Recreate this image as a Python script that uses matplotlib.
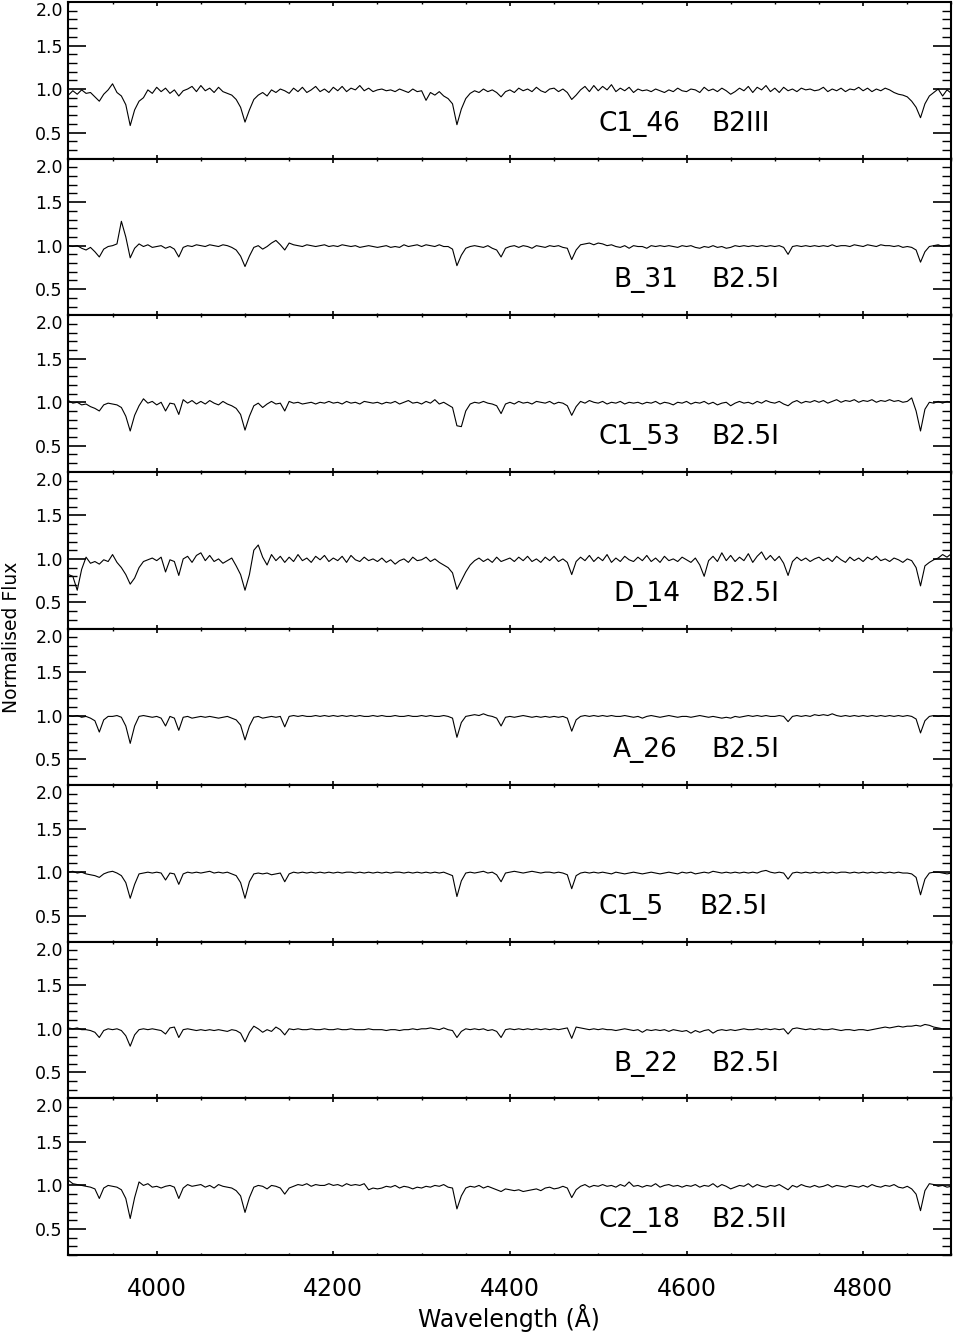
import matplotlib
matplotlib.use('Agg')
import matplotlib.pyplot as plt
import numpy as np
from matplotlib.ticker import MultipleLocator

# stars, top to bottom
star_names = ['C1_46', 'B_31', 'C1_53', 'D_14', 'A_26', 'C1_5', 'B_22', 'C2_18']
spectral_types = ['B2III', 'B2.5I', 'B2.5I', 'B2.5I', 'B2.5I', 'B2.5I', 'B2.5I', 'B2.5II']

y_ticks = [0.5, 1.0, 1.5, 2.0]
y_ticklabels = ['0.5', '1.0', '1.5', '2.0']

# normalised flux, 3900-4900 A in 5 A steps (10 values per row)
flux_c1_46 = [
    0.93, 0.98, 0.94, 0.99, 0.95, 0.96, 0.91, 0.86, 0.94, 0.99,
    1.06, 0.96, 0.92, 0.82, 0.58, 0.76, 0.86, 0.90, 0.99, 0.95,
    1.02, 0.97, 1.01, 0.95, 0.99, 0.92, 0.98, 1.00, 1.03, 0.97,
    1.04, 0.98, 1.01, 0.96, 1.02, 0.97, 0.95, 0.93, 0.88, 0.79,
    0.62, 0.76, 0.88, 0.93, 0.96, 0.92, 0.99, 0.96, 1.00, 0.98,
    0.95, 1.01, 0.97, 1.02, 0.96, 0.99, 1.03, 0.97, 1.00, 0.96,
    1.02, 0.98, 1.03, 0.97, 1.01, 0.99, 1.04, 0.98, 1.01, 0.97,
    0.99, 1.00, 0.98, 0.99, 0.97, 1.00, 0.98, 0.96, 1.00, 0.97,
    0.98, 0.87, 0.96, 0.93, 0.97, 0.92, 0.89, 0.83, 0.59, 0.77,
    0.89, 0.95, 0.98, 0.96, 1.00, 0.97, 0.99, 0.96, 0.91, 0.97,
    0.99, 0.96, 1.01, 0.98, 1.00, 0.97, 1.02, 0.98, 0.96, 1.00,
    1.01, 0.97, 1.00, 0.96, 0.88, 0.93, 0.99, 1.03, 0.97, 1.04,
    0.98, 1.03, 0.99, 1.05, 0.97, 1.01, 0.98, 1.02, 0.96, 1.00,
    0.98, 0.99, 0.97, 1.00, 0.98, 0.96, 0.99, 0.97, 1.01, 0.98,
    0.97, 1.00, 0.99, 0.96, 1.02, 0.98, 1.00, 0.97, 1.01, 0.98,
    0.94, 0.97, 1.01, 0.98, 1.03, 0.96, 1.02, 0.99, 1.04, 0.97,
    1.01, 0.96, 1.02, 0.98, 1.00, 0.97, 1.01, 0.99, 1.00, 0.98,
    0.99, 1.02, 0.97, 1.00, 0.98, 1.01, 0.97, 1.00, 0.99, 1.02,
    0.98, 1.01, 0.97, 1.00, 0.98, 1.01, 0.99, 0.96, 0.94, 0.93,
    0.91, 0.86, 0.79, 0.67, 0.83, 0.92, 0.96, 1.00, 0.92, 0.99,
    0.95,
]

flux_b_31 = [
    1.00, 0.99, 1.00, 0.97, 0.95, 0.98, 0.93, 0.87, 0.96, 0.99,
    1.00, 1.02, 1.28, 1.10, 0.86, 0.97, 1.02, 0.99, 1.01, 0.98,
    0.99, 1.00, 0.97, 0.99, 0.96, 0.87, 0.98, 1.00, 0.99, 1.01,
    1.00, 0.99, 1.01, 1.00, 0.99, 1.01, 1.00, 0.98, 0.95, 0.88,
    0.76, 0.88, 0.98, 1.00, 0.96, 0.99, 1.03, 1.06, 1.01, 0.95,
    1.03, 1.01, 1.00, 0.99, 1.01, 1.00, 0.99, 1.00, 1.01, 0.99,
    1.00, 0.99, 1.01, 1.00, 0.99, 1.00, 0.98, 0.99, 1.00, 0.99,
    0.98, 0.99, 1.00, 0.98, 0.99, 0.98, 1.01, 0.99, 1.00, 1.01,
    0.99, 1.01, 1.00, 0.99, 1.01, 0.99, 0.99, 0.96, 0.77, 0.89,
    0.97, 0.99, 1.00, 0.99, 0.98, 1.00, 0.97, 0.95, 0.87, 0.97,
    0.99, 1.00, 0.98, 1.00, 0.99, 0.97, 1.00, 0.99, 0.98, 1.00,
    0.99, 1.00, 0.98, 0.97, 0.84, 0.95, 1.01, 1.02, 1.03, 1.01,
    1.03, 1.02, 1.00, 1.01, 0.99, 0.98, 1.00, 0.97, 1.00, 0.99,
    0.99, 0.97, 1.00, 0.99, 1.00, 0.99, 1.00, 0.99, 0.98, 1.00,
    0.99, 1.00, 0.98, 0.97, 0.99, 0.98, 1.00, 0.98, 0.99, 0.97,
    0.98, 1.00, 0.99, 1.00, 0.99, 1.00, 0.99, 1.00, 0.99, 1.00,
    0.99, 1.00, 0.98, 0.90, 0.99, 1.00, 0.99, 1.00, 0.99, 1.00,
    0.99, 1.00, 0.99, 1.01, 0.99, 1.00, 1.00, 0.99, 1.01, 1.00,
    0.99, 1.01, 1.00, 0.99, 1.01, 1.00, 1.00, 0.99, 1.00, 0.98,
    0.99, 0.98, 0.95, 0.81, 0.93, 0.99, 1.00, 1.01, 0.99, 1.00,
    1.01,
]

flux_c1_53 = [
    1.02, 0.99, 1.00, 0.97, 0.98, 0.95, 0.93, 0.90, 0.97, 0.99,
    0.98, 0.97, 0.94, 0.84, 0.67, 0.85, 0.96, 1.04, 0.99, 1.01,
    0.97, 1.00, 0.90, 0.99, 0.98, 0.86, 1.03, 0.99, 1.02, 0.98,
    1.01, 0.98, 1.02, 0.99, 0.97, 1.01, 0.98, 0.96, 0.93, 0.86,
    0.68, 0.84, 0.96, 0.99, 0.94, 0.98, 1.01, 0.98, 0.99, 0.90,
    1.01, 0.99, 1.00, 0.98, 0.99, 1.00, 0.98, 1.00, 0.99, 1.01,
    0.99, 1.00, 0.98, 1.01, 0.99, 1.00, 0.98, 1.01, 1.00, 0.99,
    1.00, 0.98, 1.00, 0.99, 1.01, 0.98, 1.00, 1.02, 0.99, 1.00,
    0.98, 1.01, 0.99, 1.03, 0.98, 1.00, 0.97, 0.94, 0.73, 0.72,
    0.90, 0.98, 1.00, 0.99, 1.01, 0.99, 0.98, 0.96, 0.87, 0.98,
    1.00, 0.98, 1.01, 0.99, 1.00, 0.98, 1.01, 1.00, 0.99, 1.01,
    0.98, 1.00, 0.99, 0.96, 0.85, 0.95, 1.01, 0.99, 1.02, 1.00,
    0.99, 1.01, 0.98, 1.00, 0.99, 1.01, 0.98, 1.00, 0.99, 1.00,
    0.98, 1.00, 0.99, 1.01, 0.98, 1.00, 0.99, 0.97, 1.00, 0.99,
    1.01, 0.98, 1.00, 0.99, 1.01, 0.98, 1.00, 0.97, 0.99, 1.00,
    0.96, 0.99, 1.01, 0.99, 1.00, 0.98, 1.01, 0.99, 1.02, 1.00,
    0.99, 1.01, 0.98, 0.96, 1.00, 1.02, 0.99, 1.01, 1.00, 1.02,
    1.00, 1.02, 0.99, 1.01, 1.03, 1.00, 1.02, 1.01, 1.03, 1.00,
    1.02, 1.01, 1.03, 1.00, 1.02, 1.01, 1.03, 1.01, 1.02, 1.00,
    1.01, 1.05, 0.90, 0.67, 0.92, 1.00, 0.99, 1.01, 0.99, 1.01,
    1.00,
]

flux_d_14 = [
    0.82, 0.80, 0.64, 0.88, 1.02, 0.95, 0.97, 0.94, 0.99, 0.97,
    1.05, 0.96, 0.90, 0.82, 0.71, 0.78, 0.90, 0.97, 0.99, 1.01,
    0.98, 1.02, 0.85, 0.99, 0.97, 0.81, 1.00, 1.03, 0.96, 1.04,
    1.07, 0.98, 1.04, 0.97, 1.00, 0.95, 0.98, 1.01, 0.92, 0.82,
    0.64, 0.82, 1.10, 1.16, 1.02, 0.93, 1.05, 0.98, 1.03, 0.96,
    1.02, 0.97, 1.05, 0.98, 1.01, 0.96, 1.03, 0.99, 1.04, 0.97,
    1.01, 0.98, 1.03, 0.96, 1.04, 0.99, 0.97, 1.02, 0.98, 1.00,
    0.97, 1.01, 0.96, 0.99, 0.94, 0.98, 1.00, 0.96, 1.02, 0.98,
    0.99, 1.02, 0.97, 1.00, 0.96, 0.93, 0.90, 0.84, 0.65, 0.75,
    0.85, 0.93, 0.98, 1.01, 0.97, 1.00, 0.96, 1.02, 0.97, 0.99,
    1.01, 0.97, 1.02, 0.98, 1.03, 0.97, 1.00, 0.96, 1.02, 0.98,
    1.03, 0.97, 1.00, 0.96, 0.82, 0.97, 1.02, 0.98, 1.04, 0.97,
    1.02, 0.98, 1.05, 0.96, 1.01, 0.97, 1.03, 0.99, 0.97, 1.02,
    0.98, 1.04, 0.97, 1.01, 0.96, 1.03, 0.98, 1.00, 0.97, 1.02,
    0.99, 0.96, 1.01, 0.93, 0.80, 0.98, 1.03, 0.97, 1.07, 0.98,
    1.04, 0.97, 1.02, 0.98, 1.06, 0.96, 1.03, 1.08, 0.99, 1.04,
    0.98, 1.03, 0.95, 0.81, 0.97, 1.02, 0.98, 1.01, 0.97, 1.00,
    1.02, 0.98, 1.01, 0.97, 1.03, 0.99, 0.96, 1.02, 0.98, 1.01,
    0.97, 1.02, 0.99, 1.03, 0.98, 1.00, 0.97, 1.01, 0.99, 0.96,
    1.00, 0.98, 0.90, 0.69, 0.92, 0.96, 0.99, 1.01, 1.05, 1.02,
    1.06,
]

flux_a_26 = [
    1.00, 0.99, 1.00, 0.98, 0.99, 0.97, 0.94, 0.81, 0.95, 0.99,
    0.99, 1.00, 0.98, 0.88, 0.68, 0.88, 0.99, 1.00, 0.99, 0.98,
    0.99, 0.97, 0.88, 0.99, 0.97, 0.83, 0.98, 0.99, 0.97, 0.98,
    0.99, 0.98, 0.99, 0.98, 0.97, 0.98, 0.99, 0.97, 0.95, 0.89,
    0.72, 0.88, 0.98, 0.99, 0.97, 0.98, 0.99, 0.98, 0.99, 0.87,
    0.99, 1.00, 0.99, 1.00, 0.99, 0.99, 1.00, 0.99, 1.00, 0.99,
    1.00, 0.99, 1.00, 0.99, 1.00, 0.99, 1.00, 0.99, 0.99, 1.00,
    0.99, 1.00, 0.99, 0.99, 1.00, 0.99, 0.99, 1.00, 0.99, 0.99,
    1.00, 0.99, 1.00, 0.99, 0.99, 1.00, 0.99, 0.97, 0.75, 0.92,
    0.99, 1.00, 1.01, 1.00, 1.02, 1.00, 0.99, 0.97, 0.88, 0.98,
    0.99, 0.98, 0.99, 1.00, 0.99, 0.98, 0.99, 0.98, 0.99, 0.98,
    0.99, 0.98, 0.99, 0.97, 0.82, 0.95, 0.99, 1.00, 0.99, 1.00,
    0.99, 1.00, 0.99, 1.00, 0.99, 0.99, 1.00, 0.99, 0.98, 0.99,
    0.97, 0.99, 1.00, 0.99, 0.98, 0.99, 1.00, 0.99, 0.98, 0.99,
    0.99, 0.98, 0.99, 1.00, 0.99, 0.98, 0.99, 0.98, 0.97, 0.98,
    0.97, 0.99, 0.98, 0.99, 1.00, 0.99, 1.00, 0.99, 1.00, 0.99,
    0.99, 1.00, 0.99, 0.93, 0.99, 1.00, 0.99, 1.00, 0.99, 1.01,
    1.00, 1.01, 1.00, 1.02, 1.00, 0.99, 1.00, 0.99, 1.00, 0.99,
    1.00, 0.99, 1.00, 0.99, 1.00, 0.99, 1.00, 0.99, 1.00, 0.99,
    1.00, 0.99, 0.96, 0.80, 0.94, 0.99, 1.00, 0.99, 1.00, 0.99,
    1.00,
]

flux_c1_5 = [
    1.00, 1.01, 0.99, 1.00, 0.98, 0.97, 0.96, 0.94, 0.98, 1.00,
    1.01, 0.99, 0.96, 0.88, 0.70, 0.86, 0.98, 0.99, 1.00, 0.99,
    1.00, 0.99, 0.91, 0.99, 0.98, 0.86, 0.98, 1.00, 0.99, 1.00,
    0.99, 1.00, 1.01, 0.99, 1.00, 0.99, 1.00, 0.98, 0.96, 0.88,
    0.70, 0.89, 0.98, 0.99, 0.98, 0.99, 0.97, 0.98, 0.99, 0.89,
    0.98, 1.00, 0.99, 1.00, 0.99, 1.00, 0.99, 1.00, 0.99, 1.00,
    0.99, 1.00, 0.99, 1.00, 1.00, 0.99, 1.00, 0.99, 1.00, 0.99,
    1.00, 0.99, 1.00, 0.99, 1.00, 1.00, 0.99, 1.00, 0.99, 1.00,
    0.99, 1.00, 0.99, 1.00, 0.99, 1.00, 0.98, 0.96, 0.72, 0.90,
    0.99, 1.00, 0.99, 1.00, 1.01, 0.99, 1.00, 0.97, 0.89, 0.99,
    1.00, 1.01, 1.00, 0.99, 1.00, 1.01, 1.00, 0.99, 1.00, 1.00,
    0.99, 1.00, 0.99, 0.97, 0.81, 0.96, 0.99, 1.00, 0.99, 1.00,
    0.99, 1.00, 0.99, 0.98, 1.00, 0.99, 0.98, 0.99, 1.00, 0.99,
    0.98, 0.99, 1.00, 0.99, 0.98, 0.99, 1.00, 0.99, 0.98, 1.00,
    0.99, 1.00, 0.98, 0.99, 1.00, 0.99, 1.01, 1.00, 0.99, 1.00,
    0.99, 1.00, 0.99, 1.00, 0.99, 1.00, 0.99, 1.01, 1.02, 1.00,
    0.99, 1.00, 0.99, 0.92, 0.99, 1.00, 0.99, 1.00, 0.99, 1.00,
    0.99, 1.00, 0.99, 1.00, 0.99, 1.00, 1.00, 0.99, 1.00, 0.99,
    1.00, 0.99, 1.00, 0.99, 1.00, 0.99, 1.00, 0.99, 1.00, 0.99,
    0.99, 0.98, 0.94, 0.74, 0.92, 0.99, 1.00, 1.00, 0.99, 0.98,
    0.99,
]

flux_b_22 = [
    1.01, 1.00, 1.01, 0.99, 0.99, 0.98, 0.96, 0.90, 0.98, 1.00,
    0.99, 1.00, 0.98, 0.92, 0.80, 0.93, 0.99, 1.00, 0.99, 1.00,
    0.99, 0.98, 0.94, 1.01, 1.02, 0.90, 0.99, 1.00, 0.99, 0.98,
    0.99, 0.98, 0.99, 0.98, 0.99, 0.98, 0.97, 0.99, 0.98, 0.95,
    0.85, 0.96, 1.03, 1.00, 0.96, 0.99, 0.97, 1.02, 0.99, 0.93,
    1.00, 0.99, 1.00, 0.99, 0.99, 1.00, 0.99, 0.99, 1.00, 0.99,
    0.99, 1.00, 0.99, 0.99, 1.00, 0.99, 0.99, 0.99, 1.00, 0.99,
    0.99, 0.99, 0.98, 0.99, 0.99, 0.98, 0.99, 0.99, 1.00, 0.99,
    1.00, 1.00, 1.01, 1.00, 0.99, 1.01, 0.99, 0.98, 0.90, 0.97,
    1.00, 0.99, 1.00, 0.99, 1.00, 0.98, 0.99, 0.97, 0.90, 0.99,
    1.00, 0.99, 1.00, 0.99, 1.00, 0.99, 1.00, 0.99, 1.00, 0.99,
    1.00, 0.99, 1.00, 1.01, 0.89, 1.02, 1.01, 1.00, 0.99, 1.00,
    0.99, 1.00, 0.99, 0.99, 0.98, 0.99, 1.00, 0.99, 0.98, 0.99,
    0.96, 0.99, 0.98, 0.99, 0.98, 0.99, 0.97, 0.99, 0.98, 0.97,
    0.98, 0.95, 0.98, 0.96, 0.98, 0.99, 0.95, 0.98, 0.99, 0.98,
    0.99, 0.98, 0.99, 1.00, 0.99, 0.99, 1.00, 0.99, 1.00, 0.99,
    1.00, 0.99, 1.00, 0.94, 1.00, 1.01, 1.00, 0.99, 1.00, 0.99,
    1.00, 0.99, 0.99, 1.00, 0.99, 0.98, 0.99, 0.99, 0.98, 0.99,
    0.99, 0.98, 0.99, 1.00, 1.01, 1.02, 1.01, 1.02, 1.03, 1.02,
    1.03, 1.03, 1.04, 1.03, 1.05, 1.04, 1.02, 1.01, 1.00, 1.00,
    1.00,
]

flux_c2_18 = [
    1.06, 1.02, 1.01, 1.00, 0.99, 0.98, 0.96, 0.85, 0.97, 1.00,
    0.99, 0.98, 0.95, 0.85, 0.62, 0.86, 1.04, 1.00, 1.02, 0.98,
    0.99, 0.97, 0.99, 1.00, 0.98, 0.85, 0.97, 1.01, 0.99, 1.00,
    1.01, 0.98, 1.00, 0.97, 1.01, 0.99, 0.98, 0.97, 0.94, 0.88,
    0.69, 0.86, 0.98, 1.00, 0.99, 0.96, 1.00, 0.99, 0.97, 0.90,
    0.97, 0.99, 1.01, 1.00, 1.02, 0.99, 1.01, 1.00, 1.00, 1.02,
    1.00, 1.01, 0.99, 1.02, 1.00, 1.01, 1.00, 1.02, 0.95, 0.97,
    0.96, 0.97, 0.99, 0.98, 1.00, 0.97, 0.99, 0.98, 0.96, 0.98,
    0.97, 0.99, 0.98, 1.00, 0.99, 1.01, 0.98, 0.97, 0.73, 0.88,
    0.97, 0.99, 0.98, 1.00, 0.97, 0.99, 0.97, 0.95, 0.93, 0.96,
    0.95, 0.94, 0.95, 0.93, 0.94, 0.95, 0.96, 0.94, 0.97, 0.98,
    0.96, 0.97, 0.99, 0.97, 0.86, 0.95, 0.99, 1.01, 0.98, 1.00,
    0.99, 1.01, 0.99, 1.00, 0.98, 1.01, 0.99, 1.04, 0.99, 1.00,
    0.98, 1.00, 0.99, 1.02, 0.98, 1.00, 1.01, 0.99, 1.00, 0.98,
    1.00, 0.99, 1.01, 0.98, 1.00, 0.99, 1.02, 0.98, 1.01, 0.99,
    0.96, 0.98, 1.00, 0.99, 1.02, 0.98, 1.01, 0.99, 0.98, 1.00,
    0.99, 1.01, 0.98, 0.95, 1.00, 0.98, 1.01, 0.99, 0.98, 1.00,
    0.98, 0.99, 1.01, 0.98, 1.00, 0.99, 0.98, 1.00, 0.99, 0.98,
    1.00, 0.98, 1.01, 0.99, 0.98, 1.00, 0.99, 1.01, 0.98, 0.97,
    0.99, 0.96, 0.90, 0.71, 0.94, 1.02, 1.01, 0.99, 1.00, 0.98,
    0.99,
]

spectra = [flux_c1_46, flux_b_31, flux_c1_53, flux_d_14,
           flux_a_26, flux_c1_5, flux_b_22, flux_c2_18]

# where the two labels start in each panel (wavelength)
name_x = [4500, 4517, 4500, 4517, 4517, 4500, 4517, 4500]
type_x = [4628, 4628, 4628, 4628, 4628, 4614, 4628, 4628]

fig, axes = plt.subplots(8, 1, sharex=True, figsize=(9.54, 13.36), dpi=100)
fig.subplots_adjust(left=0.0717, right=0.9973, top=0.9985, bottom=0.0606, hspace=0)

for ax, flux, name, sptype, nx, tx in zip(axes, spectra, star_names,
                                          spectral_types, name_x, type_x):
    wave = np.linspace(3900, 4900, len(flux))
    ax.plot(wave, flux, color='black', lw=0.8)
    ax.set_xlim(3900, 4900)
    ax.set_ylim(0.2, 2.0)

    ax.set_yticks(y_ticks)
    ax.set_yticklabels(y_ticklabels)
    ax.yaxis.set_minor_locator(MultipleLocator(0.1))
    ax.xaxis.set_major_locator(MultipleLocator(200))
    ax.xaxis.set_minor_locator(MultipleLocator(50))

    ax.tick_params(axis='y', which='major', direction='in', length=13, width=1.2,
                   left=True, right=True, labelsize=12.5, pad=4)
    ax.tick_params(axis='y', which='minor', direction='in', length=6.5, width=1.0,
                   left=True, right=True)
    ax.tick_params(axis='x', which='major', direction='in', length=3, width=1.2,
                   top=True, bottom=True, labelsize=17, pad=16)
    ax.tick_params(axis='x', which='minor', direction='in', length=1.5, width=1.0,
                   top=True, bottom=True)
    # top label hangs below the panel edge, as in the original
    ax.yaxis.get_major_ticks()[-1].label1.set_verticalalignment('top')
    for s in ax.spines.values():
        s.set_linewidth(1.5)

    ax.text(nx, 0.52, name, fontsize=19, va='baseline')
    ax.text(tx, 0.52, sptype, fontsize=19, va='baseline')

fig.text(0.534, 0.0067, 'Wavelength (Å)', fontsize=17, ha='center', va='baseline')
fig.text(0.0125, 0.523, 'Normalised Flux', fontsize=13.5, rotation=90,
         ha='center', va='center')

fig.savefig('out.png', dpi=100)
